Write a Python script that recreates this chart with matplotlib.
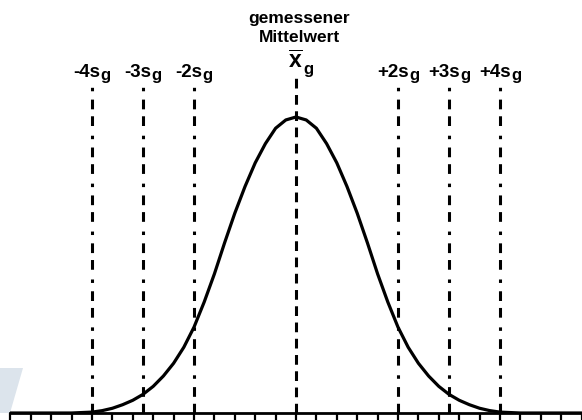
import matplotlib
matplotlib.use("Agg")
import matplotlib.pyplot as plt
from matplotlib.patches import Polygon
from matplotlib.transforms import offset_copy

plt.rcParams['font.family'] = ['Liberation Sans', 'DejaVu Sans']
plt.rcParams['mathtext.fontset'] = 'custom'
plt.rcParams['mathtext.rm'] = 'Liberation Sans'
plt.rcParams['mathtext.it'] = 'Liberation Sans'
plt.rcParams['mathtext.bf'] = 'Liberation Sans:bold'
plt.rcParams['lines.scale_dashes'] = False

# ---- data (x in units of s_g, relative to measured mean) ----
curve_x = [-5.6, -4.4, -4.0, -3.8, -3.6, -3.4, -3.2, -3.0, -2.8, -2.6, -2.4, -2.2,
           -2.0, -1.8, -1.6, -1.4, -1.2, -1.0, -0.8, -0.6, -0.4, -0.2, 0.0,
           0.2, 0.4, 0.6, 0.8, 1.0, 1.2, 1.4, 1.6, 1.8, 2.0, 2.2, 2.4, 2.6,
           2.8, 3.0, 3.2, 3.4, 3.6, 3.8, 4.0, 4.4, 5.6]
curve_y = [0.0, 0.0, 0.003, 0.008, 0.016, 0.028, 0.043, 0.063, 0.090, 0.125, 0.168, 0.222,
           0.290, 0.375, 0.470, 0.575, 0.675, 0.765, 0.845, 0.910, 0.962, 0.990, 1.000,
           0.990, 0.962, 0.910, 0.845, 0.765, 0.675, 0.575, 0.470, 0.375, 0.290, 0.222, 0.168, 0.125,
           0.090, 0.063, 0.043, 0.028, 0.016, 0.008, 0.003, 0.0, 0.0]
sigma_pos = [-4, -3, -2, 2, 3, 4]
sigma_labels = ['-4s', '-3s', '-2s', '+2s', '+3s', '+4s']
sub_label = 'g'
tick_pos = [k * 0.4 for k in range(-14, 15)]
mean_title = 'gemessener\nMittelwert'

W, H = 582, 420
fig = plt.figure(figsize=(W / 100, H / 100), dpi=100)
ax = fig.add_axes([10 / W, 7 / H, 1 - 10 / W, 1 - 7 / H])
ax.patch.set_visible(False)
x_left, x_right = (10 - 296) / 51, (582 - 296) / 51
ax.set_xlim(x_left, x_right)
ax.set_ylim(0, 413 / 296)
renderer = fig.canvas.get_renderer()

def ypx(y):
    return (413 - y) / 296

line_top = ypx(78)
dashdot = (0, (7, 5, 7, 6, 2.5, 7))
for p in sigma_pos:
    ax.plot([p, p], [0, line_top], color='black', lw=2.2, linestyle=dashdot,
            dash_capstyle='butt')
ax.plot([0, 0], [0, line_top], color='black', lw=2.2, linestyle=(0, (7, 4.7)),
        dash_capstyle='butt')

ax.plot(curve_x, curve_y, color='black', lw=2.3, solid_capstyle='round')


def compound(xd, yd, main, sub, size, sub_size, drop, gap=0.5):
    t1 = ax.text(xd, yd, main, fontsize=size, fontweight='bold', ha='left',
                 va='baseline', color='black')
    t2 = ax.text(xd, yd, sub, fontsize=sub_size, fontweight='bold', ha='left',
                 va='baseline', color='black')
    w1 = t1.get_window_extent(renderer).width
    w2 = t2.get_window_extent(renderer).width
    total = w1 + gap + w2
    t1.set_transform(offset_copy(ax.transData, fig, x=-total / 2, y=0, units='dots'))
    t2.set_transform(offset_copy(ax.transData, fig, x=-total / 2 + w1 + gap,
                                 y=-drop, units='dots'))


for p, lab in zip(sigma_pos, sigma_labels):
    compound(p, ypx(77), lab, sub_label, 13.5, 12, 3)

compound(0.1, ypx(68), r'$\overline{\mathbf{x}}$', sub_label, 16.5, 12, 6)

ax.text(0.06, ypx(28), mean_title, ha='center', va='center', fontsize=12.5,
        fontweight='bold', color='black', linespacing=1.25)

for s in ['top', 'right', 'left']:
    ax.spines[s].set_visible(False)
ax.spines['bottom'].set_linewidth(2.0)
ax.set_yticks([])
ax.set_xticks(tick_pos)
ax.set_xticklabels([])
ax.tick_params(axis='x', direction='out', length=6, width=1.6, color='black')

poly = Polygon([(0, 52 / H), (23 / W, 52 / H), (10 / W, 7 / H), (0, 7 / H)],
               closed=True, transform=fig.transFigure, facecolor='#dce4ec',
               edgecolor='none', zorder=-1)
fig.patches.append(poly)

fig.savefig('out.png', dpi=100)
